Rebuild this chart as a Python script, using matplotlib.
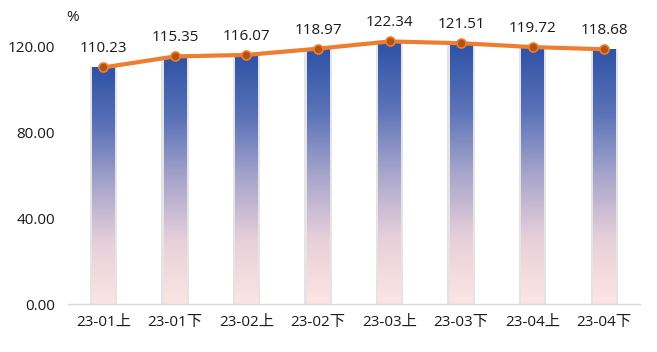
import numpy as np
import matplotlib.pyplot as plt
from matplotlib.colors import LinearSegmentedColormap
from matplotlib.patches import Rectangle

plt.rcParams['font.family'] = ['Open Sans', 'Noto Sans CJK SC', 'DejaVu Sans']

periods = ['23-01上', '23-01下', '23-02上', '23-02下', '23-03上', '23-03下', '23-04上', '23-04下']
values = [110.23, 115.35, 116.07, 118.97, 122.34, 121.51, 119.72, 118.68]

fig = plt.figure(figsize=(6.57, 3.52), dpi=100)
ax = fig.add_axes([0.103, 0.136, 0.871, 0.793])

# blue to pink gradient, top to bottom
cmap = LinearSegmentedColormap.from_list('bar', ['#fde4e4', '#e8d0da', '#a8a6cc', '#5a72b8', '#2e52a6'])
grad = np.linspace(1, 0, 256).reshape(-1, 1)

x = np.arange(len(periods))
w = 0.32
for xi, v in zip(x, values):
    # soft shadow behind the bar
    ax.add_patch(Rectangle((xi - w / 2 - 0.03, 0), w + 0.06, v, facecolor='#e4e4e4',
                           edgecolor='none', zorder=1))
    ax.imshow(grad, cmap=cmap, extent=[xi - w / 2, xi + w / 2, 0, v], aspect='auto',
              zorder=2, interpolation='bicubic')

ax.plot(x, values, color='#ED7D31', linewidth=3, marker='o', markersize=6.5,
        markerfacecolor='#B5520F', markeredgecolor='#ED7D31', markeredgewidth=1.2, zorder=4)

for xi, v in zip(x, values):
    ax.annotate(f'{v:.2f}', (xi, v), xytext=(0, 8), textcoords='offset points',
                ha='center', va='bottom', fontsize=11, color='#1a1a1a')

ax.set_xlim(-0.5, len(periods) - 0.5)
ax.set_ylim(0, 130)
ax.set_yticks([0, 40, 80, 120])
ax.set_yticklabels(['0.00', '40.00', '80.00', '120.00'])
ax.set_xticks(x)
ax.set_xticklabels(periods)
ax.tick_params(axis='both', length=0, labelsize=11, colors='#1a1a1a')
ax.tick_params(axis='y', pad=9)
ax.tick_params(axis='x', pad=8)

for s in ['top', 'right', 'left']:
    ax.spines[s].set_visible(False)
ax.spines['bottom'].set_color('#d9d9d9')
ax.spines['bottom'].set_linewidth(1)

fig.text(0.11, 0.95, '%', fontsize=11, ha='center', va='center', color='#1a1a1a')

fig.savefig('out.png', dpi=100)
